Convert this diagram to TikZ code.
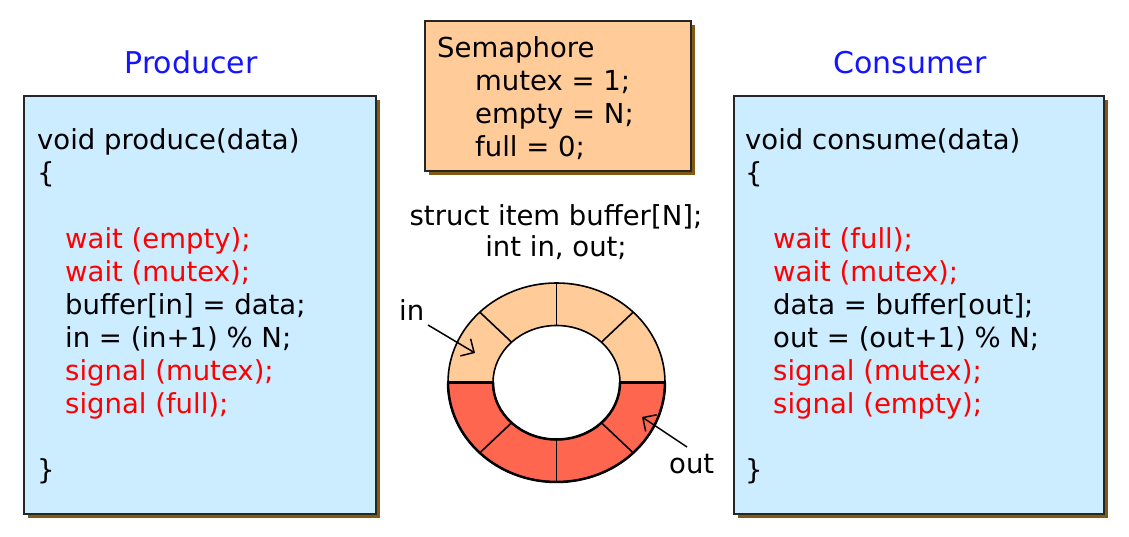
\documentclass[tikz,border=0pt]{standalone}
\usepackage{fontspec}
\setmainfont{DejaVu Sans}
\usepackage{tikz}
\usetikzlibrary{arrows.meta,shadows,calc}
\usepackage{xcolor}

\definecolor{boxblue}{RGB}{204,236,255}
\definecolor{peach}{RGB}{255,204,153}
\definecolor{tomatored}{RGB}{255,102,80}
\definecolor{shadowbrown}{RGB}{130,90,20}
\definecolor{titleblue}{RGB}{20,20,255}
\definecolor{codered}{RGB}{255,0,0}

\newcommand{\rd}[1]{\textcolor{codered}{#1}}
\newcommand{\ind}{\hspace*{28pt}}

\begin{document}
\begin{tikzpicture}[x=1pt, y=1pt,
    codefont/.style={font=\fontsize{27.5}{33}\selectfont, inner sep=0pt},
    codebox/.style={draw=black!85, line width=2pt, anchor=north west, inner sep=0pt,
        drop shadow={shadow xshift=4pt, shadow yshift=-4pt, fill=shadowbrown, opacity=1}},
    title/.style={font=\fontsize{30}{36}\selectfont, text=titleblue, anchor=base, inner sep=0pt},
    ringline/.style={line width=1.6pt},
    ptr/.style={line width=1.5pt, -{Straight Barb[length=10pt,width=20pt,line width=1.5pt]}}]
    \useasboundingbox (0, 0) rectangle (1129, 537);

    % boxes
    \node[codebox, fill=boxblue, minimum width=352pt, minimum height=418pt] (prodbox) at (23, 442) {};
    \node[codebox, fill=boxblue, minimum width=370pt, minimum height=418pt] (consbox) at (733, 442) {};
    \node[codebox, fill=peach, minimum width=266pt, minimum height=150pt] (sembox) at (424, 517) {};

    \node[title] (prodtitle) at (191, 463) {Producer};
    \node[title] (constitle) at (910, 463) {Consumer};

    % code (base anchor = baseline of last line)
    \node[codefont, align=left, anchor=base west] (prodcode) at (37, 57) {%
        void produce(data)\\
        \{\\[33pt]
        \ind\rd{wait (empty);}\\
        \ind\rd{wait (mutex);}\\
        \ind buffer[in] = data;\\
        \ind in = (in+1) \% N;\\
        \ind\rd{signal (mutex);}\\
        \ind\rd{signal (full);}\\[33pt]
        \}};

    \node[codefont, align=left, anchor=base west] (conscode) at (745, 57) {%
        void consume(data)\\
        \{\\[33pt]
        \ind\rd{wait (full);}\\
        \ind\rd{wait (mutex);}\\
        \ind data = buffer[out];\\
        \ind out = (out+1) \% N;\\
        \ind\rd{signal (mutex);}\\
        \ind\rd{signal (empty);}\\[33pt]
        \}};

    \node[codefont, align=left, anchor=base west] (semcode) at (437, 380) {%
        Semaphore\\
        \hspace*{38pt}mutex = 1;\\
        \hspace*{38pt}empty = N;\\
        \hspace*{38pt}full = 0;};

    \node[codefont, align=center, anchor=base, font=\fontsize{27.5}{31}\selectfont] (bufdecl) at (556, 280) {%
        struct item buffer[N];\\
        int in, out;};

    % ring buffer
    \coordinate (c) at (556.5, 154.5);
    \fill[peach] ($(c)+(108.5,0)$) arc[start angle=0, end angle=180, x radius=108.5, y radius=99.5]
        -- ($(c)+(-63.5,0)$) arc[start angle=180, end angle=0, x radius=63.5, y radius=57] -- cycle;
    \fill[tomatored] ($(c)+(108.5,0)$) arc[start angle=0, end angle=-180, x radius=108.5, y radius=99.5]
        -- ($(c)+(-63.5,0)$) arc[start angle=180, end angle=360, x radius=63.5, y radius=57] -- cycle;
    \draw[ringline] (c) ellipse[x radius=108.5, y radius=99.5];
    \draw[ringline] (c) ellipse[x radius=63.5, y radius=57];
    \draw[line width=2.5pt] ($(c)+(108.5,0)$) arc[start angle=0, end angle=-180, x radius=108.5, y radius=99.5];
    \draw[line width=2.5pt] ($(c)+(63.5,0)$) arc[start angle=0, end angle=-180, x radius=63.5, y radius=57];
    \draw[line width=2.2pt] ($(c)+(-108.5,0)$) -- ($(c)+(-63.5,0)$);
    \draw[line width=2.5pt] ($(c)+(108.5,0)$) -- ($(c)+(63.5,0)$);
    \foreach \a in {45, 90, 135, 225, 270, 315}
        \draw[ringline] ($(c)+({63.5*cos(\a)},{57*sin(\a)})$) -- ($(c)+({108.5*cos(\a)},{99.5*sin(\a)})$);

    \node[codefont, anchor=base west] (inlbl) at (399, 216) {in};
    \node[codefont, anchor=base west] (outlbl) at (669, 63) {out};

    \coordinate (intail) at (428, 212);
    \coordinate (inhead) at (475, 184);
    \coordinate (outtail) at (687, 90);
    \coordinate (outhead) at (642, 120);
    \draw[ptr] (intail) -- (inhead);
    \draw[ptr] (outtail) -- (outhead);
\end{tikzpicture}
\end{document}
